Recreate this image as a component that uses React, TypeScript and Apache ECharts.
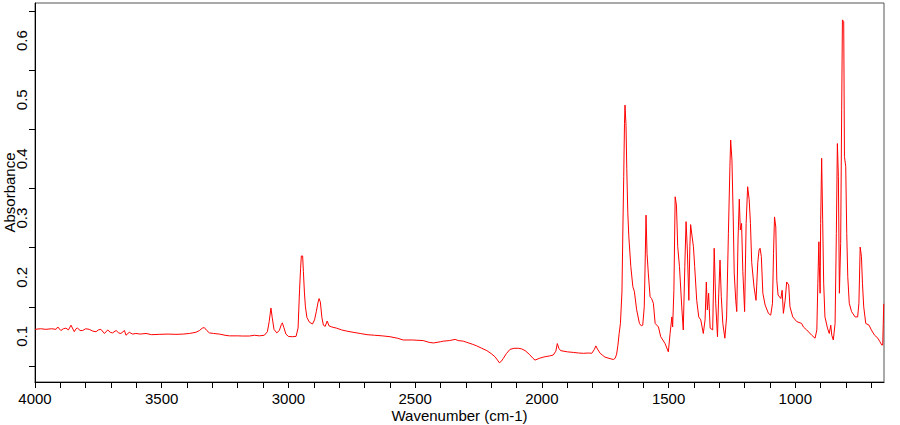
import React, { useEffect, useRef } from "react";
import * as echarts from "echarts";

const wavenumbers = [
  4000, 3978, 3957, 3935, 3917, 3910, 3898, 3888, 3878, 3868, 3858, 3845, 3838, 3832, 3822, 3812, 3800, 3786, 3772, 3759,
  3750, 3740, 3726, 3713, 3703, 3694, 3680, 3670, 3661, 3647, 3641, 3628, 3615, 3602, 3585, 3562, 3540, 3510, 3475, 3444,
  3415, 3391, 3365, 3351, 3340, 3332, 3322, 3312, 3295, 3273, 3250, 3233, 3200, 3181, 3154, 3134, 3115, 3095, 3083, 3076,
  3069, 3064, 3057, 3046, 3036, 3028, 3024, 3018, 3010, 3000, 2985, 2970, 2962, 2956, 2952, 2949, 2944, 2941, 2937, 2933,
  2927, 2917, 2905, 2897, 2890, 2883, 2879, 2874, 2868, 2862, 2855, 2847, 2840, 2829, 2810, 2790, 2770, 2745, 2717, 2690,
  2660, 2630, 2599, 2570, 2547, 2510, 2468, 2445, 2428, 2400, 2389, 2365, 2342, 2330, 2310, 2296, 2275, 2257, 2237, 2217,
  2200, 2185, 2175, 2168, 2160, 2152, 2140, 2126, 2110, 2093, 2080, 2066, 2050, 2035, 2027, 2010, 1995, 1987, 1970, 1955,
  1945, 1939, 1933, 1926, 1900, 1876, 1855, 1836, 1815, 1803, 1793, 1787, 1781, 1770, 1760, 1751, 1735, 1718, 1711, 1705,
  1700, 1695, 1690, 1684, 1680, 1677, 1674, 1672, 1668, 1665, 1661, 1657, 1649, 1641, 1635, 1626, 1615, 1608, 1602, 1596,
  1593, 1589, 1585, 1580, 1573, 1567, 1560, 1553, 1540, 1531, 1514, 1501, 1494, 1487, 1484, 1479, 1474, 1469, 1464, 1457,
  1448, 1442, 1436, 1431, 1426, 1420, 1416, 1413, 1407, 1402, 1397, 1389, 1381, 1373, 1363, 1356, 1351, 1347, 1342, 1336,
  1326, 1320, 1314, 1307, 1302, 1297, 1292, 1286, 1278, 1271, 1264, 1258, 1255, 1250, 1245, 1241, 1235, 1231, 1226, 1221,
  1217, 1212, 1207, 1200, 1194, 1188, 1182, 1177, 1172, 1163, 1155, 1148, 1143, 1139, 1134, 1128, 1119, 1106, 1097, 1090,
  1086, 1082, 1077, 1073, 1068, 1057, 1052, 1047, 1040, 1034, 1026, 1021, 1010, 994, 975, 968, 955, 935, 922, 915,
  911, 907, 905, 902, 900, 896, 892, 888, 883, 873, 866, 860, 856, 850, 843, 838, 834, 830, 826, 821,
  817, 814, 809, 806, 801, 797, 793, 787, 778, 764, 754, 749, 744, 739, 735, 730, 722, 709, 700, 687,
  674, 666, 659, 655, 653, 651,
];

const absorbance = [
  0.112, 0.113, 0.112, 0.113, 0.112, 0.116, 0.11, 0.113, 0.114, 0.111, 0.119, 0.108, 0.113, 0.114, 0.11, 0.11, 0.113, 0.112, 0.109, 0.108,
  0.111, 0.112, 0.105, 0.111, 0.107, 0.106, 0.11, 0.106, 0.105, 0.11, 0.102, 0.107, 0.104, 0.105, 0.104, 0.105, 0.103, 0.1035, 0.104, 0.1035,
  0.104, 0.105, 0.107, 0.11, 0.114, 0.115, 0.11, 0.106, 0.105, 0.104, 0.102, 0.101, 0.101, 0.1007, 0.1007, 0.102, 0.101, 0.102, 0.108, 0.125,
  0.148, 0.132, 0.112, 0.106, 0.11, 0.12, 0.123, 0.115, 0.104, 0.1, 0.0995, 0.1, 0.114, 0.18, 0.215, 0.236, 0.236, 0.21, 0.175, 0.15,
  0.132, 0.124, 0.121, 0.128, 0.142, 0.158, 0.164, 0.158, 0.132, 0.119, 0.117, 0.126, 0.118, 0.116, 0.114, 0.111, 0.109, 0.107, 0.105, 0.103,
  0.102, 0.101, 0.0995, 0.097, 0.094, 0.094, 0.093, 0.09, 0.089, 0.091, 0.092, 0.093, 0.095, 0.093, 0.092, 0.09, 0.087, 0.084, 0.08, 0.076,
  0.071, 0.0657, 0.06, 0.0556, 0.058, 0.063, 0.071, 0.078, 0.08, 0.08, 0.079, 0.076, 0.07, 0.063, 0.06, 0.063, 0.065, 0.0657, 0.067, 0.0686,
  0.075, 0.088, 0.08, 0.076, 0.074, 0.073, 0.072, 0.0715, 0.072, 0.0715, 0.078, 0.084, 0.079, 0.0715, 0.068, 0.065, 0.063, 0.061, 0.063, 0.07,
  0.085, 0.105, 0.122, 0.175, 0.29, 0.37, 0.46, 0.491, 0.457, 0.384, 0.31, 0.27, 0.218, 0.184, 0.176, 0.145, 0.122, 0.118, 0.119, 0.15,
  0.212, 0.305, 0.24, 0.207, 0.167, 0.164, 0.156, 0.122, 0.116, 0.0995, 0.088, 0.074, 0.105, 0.133, 0.116, 0.178, 0.336, 0.322, 0.252, 0.218,
  0.15, 0.111, 0.218, 0.294, 0.246, 0.161, 0.252, 0.289, 0.268, 0.252, 0.218, 0.161, 0.133, 0.128, 0.105, 0.128, 0.192, 0.145, 0.173, 0.114,
  0.111, 0.249, 0.156, 0.0995, 0.173, 0.229, 0.167, 0.122, 0.097, 0.133, 0.274, 0.387, 0.432, 0.398, 0.302, 0.207, 0.161, 0.142, 0.263, 0.332,
  0.28, 0.291, 0.21, 0.142, 0.291, 0.353, 0.331, 0.291, 0.225, 0.184, 0.161, 0.225, 0.246, 0.249, 0.235, 0.173, 0.153, 0.139, 0.136, 0.156,
  0.24, 0.302, 0.285, 0.195, 0.17, 0.164, 0.178, 0.139, 0.161, 0.192, 0.187, 0.15, 0.133, 0.125, 0.122, 0.116, 0.111, 0.102, 0.097, 0.111,
  0.19, 0.26, 0.218, 0.173, 0.291, 0.401, 0.297, 0.19, 0.133, 0.114, 0.105, 0.119, 0.102, 0.094, 0.122, 0.274, 0.426, 0.37, 0.173, 0.257,
  0.483, 0.635, 0.632, 0.404, 0.387, 0.274, 0.201, 0.156, 0.142, 0.133, 0.133, 0.156, 0.251, 0.235, 0.19, 0.15, 0.122, 0.119, 0.111, 0.102,
  0.097, 0.091, 0.0855, 0.0855, 0.12, 0.155,
];

const xLabelValues = [1000, 1500, 2000, 2500, 3000, 3500, 4000];
const xTickValues = [
  700, 800, 900, 1000, 1100, 1200, 1300, 1400, 1500, 1600, 1700, 1800, 1900, 2000, 2100, 2200, 2300,
  2400, 2500, 2600, 2700, 2800, 2900, 3000, 3100, 3200, 3300, 3400, 3500, 3600, 3700, 3800, 3900, 4000,
];
const yLabelValues = [0.1, 0.2, 0.3, 0.4, 0.5, 0.6];
const yTickValues = [0.05, 0.15, 0.25, 0.35, 0.45, 0.55, 0.65];

const FONT = "'Liberation Sans', Arial, sans-serif";

export default function App() {
  const ref = useRef<HTMLDivElement>(null);
  useEffect(() => {
    document.body.style.margin = "0";
    if (!ref.current) return;
    const chart = echarts.init(ref.current, undefined, { renderer: "svg" });
    const data = wavenumbers.map((w, i) => [w, absorbance[i]]);
    chart.setOption({
      animation: false,
      backgroundColor: "#ffffff",
      grid: {
        left: 35,
        right: 16,
        top: 3,
        bottom: 43,
        show: true,
        borderColor: "#555555",
        borderWidth: 1,
        containLabel: false,
        outerBoundsMode: "none",
      },
      xAxis: {
        type: "value",
        inverse: true,
        min: 650,
        max: 4000,
        name: "Wavenumber (cm-1)",
        nameLocation: "middle",
        nameGap: 26,
        nameMoveOverlap: false,
        nameTextStyle: { fontSize: 15, lineHeight: 15, color: "#000", fontFamily: FONT },
        axisLine: { show: true, onZero: false, lineStyle: { color: "#000", width: 1 } },
        axisTick: { show: true, inside: false, length: 6, customValues: xTickValues, lineStyle: { color: "#000", width: 1 } },
        axisLabel: {
          customValues: xLabelValues,
          fontSize: 15,
          lineHeight: 14,
          color: "#000",
          fontFamily: FONT,
          margin: 9,
          formatter: (v: number) => String(v),
        },
        splitLine: { show: false },
      },
      yAxis: {
        type: "value",
        min: 0.023,
        max: 0.6635,
        name: "Absorbance",
        nameLocation: "middle",
        nameGap: 18,
        nameMoveOverlap: false,
        nameTextStyle: { fontSize: 15, color: "#000", fontFamily: FONT },
        axisLine: { show: true, onZero: false, lineStyle: { color: "#000", width: 1 } },
        axisTick: { show: true, inside: false, length: 6, customValues: yTickValues, lineStyle: { color: "#000", width: 1 } },
        axisLabel: {
          customValues: yLabelValues,
          rotate: 90,
          fontSize: 15,
          color: "#000",
          fontFamily: FONT,
          margin: 6,
          formatter: (v: number) => v.toFixed(1),
        },
        splitLine: { show: false },
      },
      series: [
        {
          type: "line",
          data,
          showSymbol: false,
          symbol: "none",
          silent: true,
          lineStyle: { color: "#ff0000", width: 1 },
          itemStyle: { color: "#ff0000" },
        },
      ],
    });
    return () => chart.dispose();
  }, []);
  return <div ref={ref} style={{ width: 900, height: 425 }} />;
}
